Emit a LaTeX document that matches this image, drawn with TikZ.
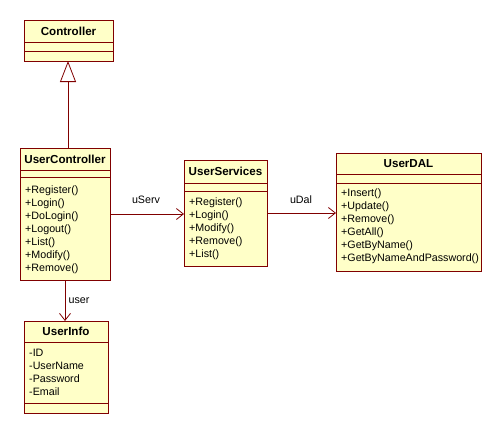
\documentclass[tikz,border=0pt]{standalone}
\usepackage{fontspec}
\setmainfont{Liberation Sans}
\usetikzlibrary{arrows.meta}
\definecolor{clsfill}{RGB}{255,255,200}
\definecolor{clsline}{RGB}{128,0,0}
\tikzset{
  cls/.style={draw=clsline, fill=clsfill, line width=0.9pt, rectangle, anchor=north west, inner sep=0pt},
  sep/.style={draw=clsline, line width=0.9pt},
  ttl/.style={font=\fontsize{11.6}{13}\selectfont\bfseries, inner sep=0pt},
  mem/.style={font=\fontsize{10.7}{13}\selectfont, align=left, anchor=north west, inner sep=0pt},
  assoc/.style={draw=clsline, line width=0.8pt, -{Straight Barb[length=7pt,width=11pt]}},
  gen/.style={draw=clsline, line width=0.8pt, -{Triangle[open,length=21pt,width=16pt,fill=white]}},
  lbl/.style={font=\fontsize{10.7}{12}\selectfont, inner sep=0pt},
}
\begin{document}
\begin{tikzpicture}[x=1pt,y=-1pt]
\useasboundingbox (0,0) rectangle (502,434);
% Controller
\node[cls, minimum width=89pt, minimum height=41pt] (ctrl) at (24,20) {};
\draw[sep] (24,42) -- (113,42) (24,51) -- (113,51);
\node[ttl] (ctrlt) at (68.5,31) {Controller};
% UserController
\node[cls, minimum width=90pt, minimum height=132pt] (uc) at (20,148) {};
\draw[sep] (20,170) -- (110,170) (20,177) -- (110,177);
\node[ttl] (uct) at (65,159) {UserController};
\node[mem] (ucm) at (25,186) {+Register()\\+Login()\\+DoLogin()\\+Logout()\\+List()\\+Modify()\\+Remove()};
% UserServices
\node[cls, minimum width=83pt, minimum height=106pt] (us) at (184,160) {};
\draw[sep] (184,183) -- (267,183) (184,191) -- (267,191);
\node[ttl] (ust) at (225.5,171.5) {UserServices};
\node[mem] (usm) at (189,198) {+Register()\\+Login()\\+Modify()\\+Remove()\\+List()};
% UserDAL
\node[cls, minimum width=145pt, minimum height=118pt] (dal) at (336,153) {};
\draw[sep] (336,174) -- (481,174) (336,183) -- (481,183);
\node[ttl] (dalt) at (408.5,163.5) {UserDAL};
\node[mem] (dalm) at (341,189) {+Insert()\\+Update()\\+Remove()\\+GetAll()\\+GetByName()\\+GetByNameAndPassword()};
% UserInfo
\node[cls, minimum width=84pt, minimum height=92pt] (ui) at (24,321) {};
\draw[sep] (24,342) -- (108,342) (24,403) -- (108,403);
\node[ttl] (uit) at (66,331.5) {UserInfo};
\node[mem] (uim) at (29,349) {-ID\\-UserName\\-Password\\-Email};
% connectors
\coordinate (g1) at (68,148);
\coordinate (g2) at (68,61);
\draw[gen] (g1) -- (g2);
\coordinate (a1) at (110,214);
\coordinate (a2) at (184,214);
\draw[assoc] (a1) -- (a2);
\node[lbl] (l1) at (146,200) {uServ};
\coordinate (b1) at (267,213);
\coordinate (b2) at (336,213);
\draw[assoc] (b1) -- (b2);
\node[lbl] (l2) at (301,200) {uDal};
\coordinate (c1) at (65,280);
\coordinate (c2) at (65,321);
\draw[assoc] (c1) -- (c2);
\node[lbl] (l3) at (79,301) {user};
\end{tikzpicture}
\end{document}
